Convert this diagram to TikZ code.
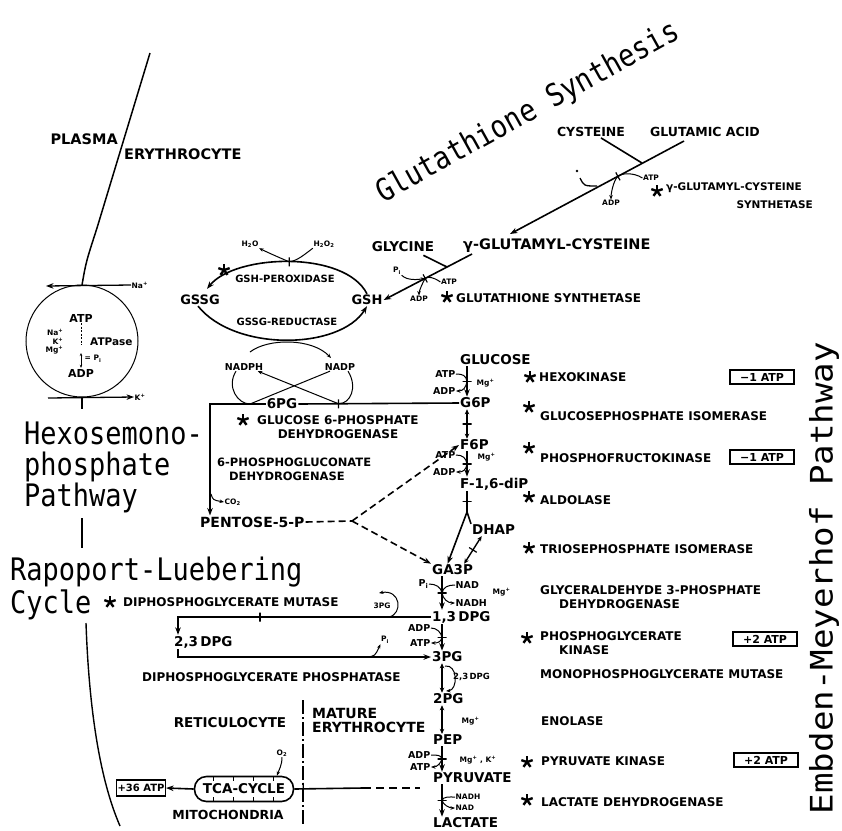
\documentclass[tikz,border=0pt]{standalone}
\usepackage{fontspec}
\setmainfont{DejaVu Sans}
\newfontfamily\ttlfont{DejaVu Sans Mono}
\usetikzlibrary{arrows.meta}
\newcommand{\fsz}[1]{\fontsize{#1}{#1}\selectfont}
\begin{document}
\begin{tikzpicture}[x=1pt,y=-1pt,
  every node/.style={inner sep=1pt},
  met/.style={font=\fsz{13.5}\bfseries},
  enz/.style={font=\fsz{12}\bfseries, anchor=west, inner sep=0pt},
  sml/.style={font=\fsz{9.5}\bfseries, inner sep=0.5pt},
  tny/.style={font=\fsz{7.5}\bfseries, inner sep=0.5pt},
  ln/.style={line width=1.6pt},
  arr/.style={line width=1.6pt, -{Stealth[length=7.5pt,width=5.5pt]}},
  darr/.style={line width=1.4pt, {Stealth[length=5pt,width=4.5pt]}-{Stealth[length=5pt,width=4.5pt]}},
  cof/.style={line width=1pt},
  cofa/.style={line width=1pt, -{Stealth[length=4.5pt,width=3.5pt]}},
  tk/.style={sloped, draw, solid, line width=1.2pt, minimum width=0pt, minimum height=9pt, inner sep=0pt, rectangle},
  atpbox/.style={draw, line width=1.2pt, font=\fsz{11}\bfseries, inner sep=1pt, minimum height=14pt},
  ttl/.style={font=\ttlfont\fsz{31}, inner sep=0pt},
  ast/.pic={\foreach \a in {270,342,54,126,198} \draw[line width=2.4pt] (0,0) -- (\a:6);}
]
\useasboundingbox (0,0) rectangle (842,830);
\fill[white] (0,0) rectangle (842,830);

% ---------- titles ----------
\node[ttl, anchor=base west] (hx1) at (24,444) {\scalebox{0.87}[1]{Hexosemono-}};
\node[ttl, anchor=base west] (hx2) at (24,475) {\scalebox{0.87}[1]{phosphate}};
\node[ttl, anchor=base west] (hx3) at (24,506) {\scalebox{0.87}[1]{Pathway}};
\node[ttl, anchor=base west] (rp1) at (10,580) {\scalebox{0.87}[1]{Rapoport-Luebering}};
\node[ttl, anchor=base west] (rp2) at (10,613) {\scalebox{0.87}[1]{Cycle}};
\node[ttl, rotate=90] (emb) at (824,578) {\scalebox{1.1}[1]{Embden-Meyerhof Pathway}};
\node[ttl, rotate=29] (gsyn) at (528,113) {\scalebox{0.87}[1]{Glutathione Synthesis}};

% ---------- membrane and cell ----------
\draw[line width=1.5pt] (150,53) -- (97,228) .. controls (86,262) .. (82,285);
\node[font=\fsz{14.5}\bfseries, anchor=base east, inner sep=0pt] (plasma) at (118,144) {PLASMA};
\node[font=\fsz{14.5}\bfseries, anchor=base west, inner sep=0pt] (eryth) at (124,159) {ERYTHROCYTE};
\node[draw, circle, line width=1pt, minimum size=112pt, inner sep=0pt] (cell) at (82,341) {};
\node[tny, anchor=west] (naout) at (131,285) {Na\textsuperscript{+}};
\coordinate (naend) at (46,286);
\draw[arr, line width=1.3pt] (naout.west) -- (naend);
\node[tny, anchor=west] (kout) at (134,397) {K\textsuperscript{+}};
\coordinate (kin) at (48,398);
\draw[arr, line width=1.3pt] (kin) -- (kout.west);
\draw[line width=1.3pt] (cell.south) -- ++(0,11);
\node[font=\fsz{11}\bfseries] (atpc) at (81,318) {ATP};
\node[font=\fsz{11}\bfseries] (adpc) at (81,373) {ADP};
\node[font=\fsz{10.5}\bfseries, anchor=west] (atpase) at (89,342) {ATPase};
\node[tny, anchor=east] (nai) at (64,332) {Na\textsuperscript{+}};
\node[tny, anchor=east] (ki) at (64,341) {K\textsuperscript{+}};
\node[tny, anchor=east] (mgi) at (64,350) {Mg\textsuperscript{+}};
\coordinate (dotend) at (81,345);
\draw[line width=1pt, dash pattern=on 2pt off 1.5pt] (atpc.south) -- (dotend);
\coordinate (pitop) at (81,353);
\draw[line width=0.9pt, {Stealth[length=3pt,width=2.5pt]}-{Stealth[length=3pt,width=2.5pt]}] (pitop) -- (adpc.north);
\node[tny, anchor=west] (pin) at (84,359) {= P\textsubscript{i}};
\draw[line width=1.4pt] (82,518) -- (82,548);
\draw[line width=1.4pt] (86,623) .. controls (89,710) and (100,780) .. (120,826);

% ---------- glutathione synthesis ----------
\node[font=\fsz{12.5}\bfseries] (cys) at (591,132) {CYSTEINE};
\node[font=\fsz{12.5}\bfseries] (glu) at (705,132) {GLUTAMIC ACID};
\coordinate (l1a) at (684,141);
\coordinate (l1b) at (510,234);
\coordinate (cj) at (642,163);
\draw[arr] (l1a) -- node[tk, pos=0.38] (t1) {} (l1b);
\draw[ln] ([xshift=10pt]cys.south) -- (cj);
\node[tny] (atpg1) at (651,178) {ATP};
\node[tny] (adpg1) at (611,203) {ADP};
\draw[cof] (atpg1.west) .. controls +(-9,-6) and +(3,-3) .. (t1.center);
\draw[cofa] (t1.center) .. controls +(-5,5) and +(0,-5) .. (adpg1.north);
\fill (577,171) circle (1.3);
\draw[line width=1.3pt] (580,178) .. controls (584,186) .. (597,186);
\pic at (657,191) {ast};
\node[font=\fsz{10.5}\bfseries, anchor=west] (gcs1) at (665,188) {γ-GLUTAMYL-CYSTEINE};
\node[font=\fsz{10.5}\bfseries, anchor=east] (gcs2) at (814,205) {SYNTHETASE};
\node[font=\fsz{14.5}\bfseries, anchor=west] (gcys) at (462,246) {γ-GLUTAMYL-CYSTEINE};
\node[met] (gly) at (403,247) {GLYCINE};
\node[font=\fsz{13}\bfseries] (gsh) at (367,300) {GSH};
\node[font=\fsz{13}\bfseries] (gssg) at (200,300) {GSSG};
\coordinate (l2a) at (472,254);
\coordinate (glyj) at (447,267);
\draw[arr] (l2a) -- node[tk, pos=0.53] (t2) {} (gsh.east);
\draw[ln] ([xshift=-12pt,yshift=-2pt]gly.south east) -- (glyj);
\node[tny] (pig) at (397,271) {P\textsubscript{i}};
\node[tny] (atpg2) at (449,282) {ATP};
\node[tny] (adpg2) at (419,299) {ADP};
\draw[cofa] (pig.south east) .. controls +(6,6) and +(-6,1) .. (t2.center);
\draw[cof] (atpg2.west) .. controls +(-7,-5) and +(3,-2) .. (t2.center);
\draw[cofa] (t2.center) .. controls +(-3,5) and +(0,-4) .. (adpg2.north);
\pic at (447,297) {ast};
\node[enz] (gss) at (456,298) {GLUTATHIONE SYNTHETASE};

% ---------- GSSG / GSH cycle ----------
\draw[arr] (gsh.north) .. controls (345,250) and (235,254) .. node[tk, pos=0.5] (tpx) {} ([xshift=7pt,yshift=5pt]gssg.north);
\pic at (224,270) {ast};
\node[tny] (h2o) at (250,244) {H\textsubscript{2}O};
\node[tny] (h2o2) at (324,244) {H\textsubscript{2}O\textsubscript{2}};
\draw[cofa] (tpx.center) .. controls +(-14,-6) and +(6,3) .. (h2o.south east);
\draw[cof] (h2o2.south west) .. controls +(-8,6) and +(8,-1) .. (tpx.center);
\node[font=\fsz{10}\bfseries] (gpx) at (285,279) {GSH-PEROXIDASE};
\draw[arr] ([xshift=-2pt]gssg.south) .. controls (235,352) and (340,350) .. (gsh.south);
\node[font=\fsz{10}\bfseries] (gred) at (287,322) {GSSG-REDUCTASE};
\node[sml] (nadph) at (244,367) {NADPH};
\node[sml] (nadp) at (340,367) {NADP};
\coordinate (arcA) at (250,352);
\coordinate (arcB) at (331,358);
\draw[cofa] (arcA) .. controls (268,338) and (312,338) .. (arcB);

% ---------- HMP shunt ----------
\node[met, anchor=west] (glc) at (459,360) {GLUCOSE};
\node[met, anchor=west] (g6p) at (459,403) {G6P};
\node[met] (pg6) at (282,404) {6PG};
\coordinate (x6l) at (250,404);
\coordinate (corner) at (210,404);
\coordinate (axP) at (210,0);
\node[font=\fsz{14}\bfseries, anchor=west] (pent) at (199,522) {PENTOSE-5-P};
\draw[ln] (g6p.west) -- node[tk, pos=0.75] (t6) {} (pg6.east);
\draw[arr] (pg6.west) -- (corner) -- (pent.north -| axP);
\draw[cof] ([xshift=-8pt]nadph.south) .. controls +(-10,16) and +(-12,0) .. (x6l);
\draw[cof] ([xshift=8pt]nadp.south) .. controls +(10,16) and +(12,0) .. (t6.center);
\draw[cof] ([xshift=-10pt]nadp.south) -- (x6l);
\draw[cofa] (t6.center) -- ([xshift=-6pt]nadph.south east);
\node[tny, anchor=west] (co2) at (224,502) {CO\textsubscript{2}};
\coordinate (co2s) at (211,494);
\draw[cofa] (co2s) .. controls (213,500) .. (co2.west);
\pic at (243,420) {ast};
\node[enz] (g6pd1) at (257,420) {GLUCOSE 6-PHOSPHATE};
\node[font=\fsz{12}\bfseries, inner sep=0pt] (g6pd2) at (338,434) {DEHYDROGENASE};
\node[font=\fsz{11.5}\bfseries, anchor=west, inner sep=0pt] (pgd1) at (217,462) {6-PHOSPHOGLUCONATE};
\node[font=\fsz{11.5}\bfseries, anchor=west, inner sep=0pt] (pgd2) at (229,476) {DEHYDROGENASE};

% ---------- glycolysis ----------
\coordinate (axA) at (467,0);
\coordinate (axB) at (442,0);
\node[met, anchor=west] (f6p) at (459,445) {F6P};
\node[met, anchor=west] (fdp) at (459,484) {F-1,6-diP};
\node[met, anchor=west] (dhap) at (471,530) {DHAP};
\node[met, anchor=west] (ga3p) at (431,570) {GA3P};
\node[met, anchor=west] (dpg13) at (431,617) {1,3\,DPG};
\node[met, anchor=west] (pg3) at (431,657) {3PG};
\node[met, anchor=west] (pg2) at (432,699) {2PG};
\node[met, anchor=west] (pep) at (432,740) {PEP};
\node[met, anchor=west] (pyr) at (432,778) {PYRUVATE};
\node[met, anchor=west] (lac) at (432,823) {LACTATE};

\coordinate (pv) at (352,521);
\draw[ln, dash pattern=on 7pt off 4pt] (pent.east) -- (pv);
\draw[arr, dash pattern=on 7pt off 4pt] (pv) -- (f6p.west);
\draw[arr, dash pattern=on 7pt off 4pt] (pv) -- (ga3p.north west);

% hexokinase
\draw[arr] (glc.south -| axA) -- node[tk] (th) {} (g6p.north -| axA);
\node[sml, anchor=east] (atp1) at (456,374) {ATP};
\node[sml, anchor=east] (adp1) at (456,391) {ADP};
\draw[cof] (atp1.east) .. controls +(7,0) and +(-1,-6) .. (th.center);
\draw[cofa] (th.center) .. controls +(-1,6) and +(7,0) .. (adp1.east);
\node[tny, anchor=west] (mg1) at (476,383) {Mg\textsuperscript{+}};
% isomerase
\draw[darr] (g6p.south -| axA) -- node[tk] (ti) {} (f6p.north -| axA);
% PFK
\draw[arr] (f6p.south -| axA) -- node[tk] (tp) {} (fdp.north -| axA);
\node[sml, anchor=east] (atp2) at (456,455) {ATP};
\node[sml, anchor=east] (adp2) at (456,472) {ADP};
\draw[cof] (atp2.east) .. controls +(7,0) and +(-1,-6) .. (tp.center);
\draw[cofa] (tp.center) .. controls +(-1,6) and +(7,0) .. (adp2.east);
\node[tny, anchor=west] (mg2) at (477,457) {Mg\textsuperscript{+}};
% aldolase
\coordinate (fork) at (467,512);
\draw[ln] (fdp.south -| axA) -- node[tk] (ta) {} (fork);
\draw[arr] (fork) -- ([xshift=-5pt]ga3p.north);
\draw[ln] (fork) -- (dhap.north west);
% TPI
\draw[darr] ([xshift=-12pt]dhap.south) -- node[tk] (tt) {} ([xshift=-10pt]ga3p.north east);
% GAPDH
\draw[arr] (ga3p.south -| axB) -- node[tk] (tg) {} (dpg13.north -| axB);
\node[sml, anchor=east] (pi1) at (429,584) {P\textsubscript{i}};
\node[sml, anchor=west] (nad1) at (455,585) {NAD};
\node[sml, anchor=west] (nadh1) at (455,603) {NADH};
\draw[cof] (pi1.east) .. controls +(7,0) and +(-1,-6) .. (tg.center);
\draw[cof] (nad1.west) .. controls +(-7,0) and +(1,-6) .. (tg.center);
\draw[cofa] (tg.center) .. controls +(1,6) and +(-7,0) .. (nadh1.west);
\node[tny, anchor=west] (mg3) at (492,592) {Mg\textsuperscript{+}};
% PGK
\draw[arr] (dpg13.south -| axB) -- node[tk] (tk1) {} (pg3.north -| axB);
\node[sml, anchor=east] (adp3) at (431,628) {ADP};
\node[sml, anchor=east] (atp3) at (431,643) {ATP};
\draw[cof] (adp3.east) .. controls +(6,0) and +(-1,-5) .. (tk1.center);
\draw[cofa] (tk1.center) .. controls +(-1,5) and +(6,0) .. (atp3.east);
% PGM
\draw[darr] (pg3.south -| axB) -- (pg2.north -| axB);
\coordinate (lpa) at (445,666);
\coordinate (lpb) at (446,691);
\draw[cofa] (lpa) .. controls (458,664) and (458,690) .. (lpb);
\node[font=\fsz{8.5}\bfseries, anchor=west, inner sep=0pt] (dpgl) at (453,677) {2,3\,DPG};
% enolase
\draw[darr] (pg2.south -| axB) -- (pep.north -| axB);
\node[tny, anchor=west] (mg4) at (461,721) {Mg\textsuperscript{+}};
% PK
\draw[arr] (pep.south -| axB) -- node[tk] (tpk) {} (pyr.north -| axB);
\node[sml, anchor=east] (adp4) at (431,755) {ADP};
\node[sml, anchor=east] (atp4) at (431,767) {ATP};
\draw[cof] (adp4.east) .. controls +(6,0) and +(-1,-4) .. (tpk.center);
\draw[cofa] (tpk.center) .. controls +(-1,4) and +(6,0) .. (atp4.east);
\node[tny, anchor=west] (mgk) at (459,760) {Mg\textsuperscript{+} , K\textsuperscript{+}};
% LDH
\draw[arr] (pyr.south -| axB) -- node[tk] (tl) {} (lac.north -| axB);
\node[tny, anchor=west] (nadh2) at (455,797) {NADH};
\node[tny, anchor=west] (nad2) at (455,808) {NAD};
\draw[cof] (nadh2.west) .. controls +(-6,0) and +(1,-4) .. (tl.center);
\draw[cofa] (tl.center) .. controls +(1,4) and +(-6,0) .. (nad2.west);

% ---------- enzyme labels ----------
\pic at (530,377) {ast};
\node[enz] (e1) at (539,377) {HEXOKINASE};
\node[atpbox, minimum width=64pt] (b1) at (762,377) {−1 ATP};
\pic at (529,407) {ast};
\node[enz] (e2) at (540,416) {GLUCOSEPHOSPHATE ISOMERASE};
\pic at (529,448) {ast};
\node[enz] (e3) at (540,458) {PHOSPHOFRUCTOKINASE};
\node[atpbox, minimum width=64pt] (b2) at (762,457) {−1 ATP};
\pic at (529,497) {ast};
\node[enz] (e4) at (540,500) {ALDOLASE};
\pic at (529,548) {ast};
\node[enz] (e5) at (540,549) {TRIOSEPHOSPHATE ISOMERASE};
\node[enz] (e6) at (540,590) {GLYCERALDEHYDE 3-PHOSPHATE};
\node[enz] (e6b) at (559,604) {DEHYDROGENASE};
\pic at (527,638) {ast};
\node[enz] (e7) at (540,636) {PHOSPHOGLYCERATE};
\node[enz] (e7b) at (559,650) {KINASE};
\node[atpbox, minimum width=64pt] (b3) at (765,639) {+2 ATP};
\node[enz] (e8) at (540,674) {MONOPHOSPHOGLYCERATE MUTASE};
\node[enz] (e9) at (541,721) {ENOLASE};
\pic at (527,762) {ast};
\node[enz] (e10) at (541,761) {PYRUVATE KINASE};
\node[atpbox, minimum width=64pt] (b4) at (766,760) {+2 ATP};
\pic at (527,800) {ast};
\node[enz] (e11) at (541,802) {LACTATE DEHYDROGENASE};

% ---------- Rapoport-Luebering ----------
\pic at (110,602) {ast};
\node[enz] (dpgm) at (123,602) {DIPHOSPHOGLYCERATE MUTASE};
\node[met, anchor=west] (dpg23) at (173,642) {2,3\,DPG};
\coordinate (rl) at (178,0);
\coordinate (rc1) at (178,617);
\coordinate (rc2) at (178,657);
\draw[arr] (dpg13.west) -- node[tk, pos=0.676] (tr) {} (rc1) -- (dpg23.north -| rl);
\draw[arr] (dpg23.south -| rl) -- (rc2) -- (pg3.west);
\node[tny] (pg3l) at (382,606) {3PG};
\coordinate (lp1) at (389,617);
\coordinate (lp2) at (379,593);
\draw[cofa] (lp1) .. controls (403,614) and (401,589) .. (lp2);
\node[tny] (pi2) at (385,640) {P\textsubscript{i}};
\coordinate (pj) at (367,657);
\draw[cofa] (pj) .. controls (375,656) .. (pi2.south west);
\node[enz] (dpgp) at (142,677) {DIPHOSPHOGLYCERATE PHOSPHATASE};

% ---------- reticulocyte / mitochondria ----------
\node[met] (retic) at (230,723) {RETICULOCYTE};
\node[font=\fsz{14}\bfseries, anchor=west] (mat1) at (311,713) {MATURE};
\node[font=\fsz{14}\bfseries, anchor=west] (mat2) at (311,727) {ERYTHROCYTE};
\draw[line width=1.1pt, dash pattern=on 14pt off 3pt on 2pt off 3pt] (303,700) -- (303,826);
\node[draw, rounded corners=12pt, line width=1.6pt, minimum width=99pt, minimum height=25pt, font=\fsz{13.5}\bfseries, inner sep=1pt] (tca) at (244,789) {TCA-CYCLE};
\foreach \t in {213,233,253,273} {
  \draw[line width=1pt] (\t,777) -- (\t,781);
  \draw[line width=1pt] (\t,797) -- (\t,801);
}
\node[tny] (o2) at (282,753) {O\textsubscript{2}};
\draw[cofa] (o2.south) .. controls +(0,8) and +(2,-6) .. ([xshift=33pt]tca.north);
\node[atpbox, font=\fsz{10}\bfseries, minimum height=16pt] (atp36) at (141,788) {+36 ATP};
\draw[arr] (tca.west) -- (atp36.east);
\coordinate (tcd) at (363,788);
\coordinate (tce) at (420,788);
\draw[ln] (tca.east) -- node[tk, pos=0.13, minimum height=12pt] (tm) {} (tcd);
\draw[ln, dash pattern=on 8pt off 5pt] (tcd) -- (tce);
\node[font=\fsz{12.5}\bfseries] (mito) at (228,815) {MITOCHONDRIA};
\end{tikzpicture}
\end{document}
